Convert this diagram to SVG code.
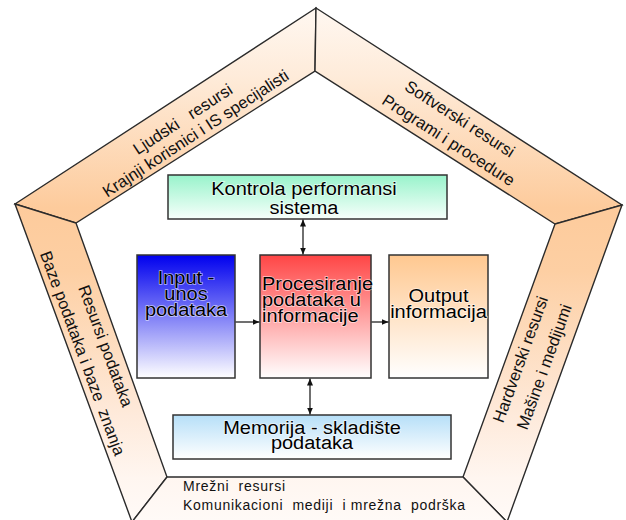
<svg xmlns="http://www.w3.org/2000/svg" width="626" height="520" viewBox="0 0 626 520">
<style>
.band{stroke:#2b2b2b;stroke-width:1.4;stroke-linejoin:miter;fill:url(#gBand)}
.box{stroke:#333;stroke-width:1.5}
.bt{font-family:"Liberation Sans",Arial,sans-serif;font-size:20px;fill:#000;stroke:#fff;stroke-width:1.6;stroke-opacity:0.6;paint-order:stroke;text-anchor:middle}
.lt{font-family:"Liberation Sans",Arial,sans-serif;font-size:16.5px;fill:#111;text-anchor:middle;white-space:pre}
.nt{font-family:"Liberation Sans",Arial,sans-serif;font-size:14px;fill:#111;white-space:pre}
.con{stroke:#222;stroke-width:1.3;fill:none}
</style>
<defs>
<linearGradient id="gBand" gradientUnits="userSpaceOnUse" x1="0" y1="0" x2="0" y2="520">
<stop offset="0" stop-color="#FFF9F4"/>
<stop offset="0.15" stop-color="#FEEBD9"/>
<stop offset="0.4" stop-color="#FDCB9C"/>
<stop offset="0.52" stop-color="#FDCFA3"/>
<stop offset="0.8" stop-color="#FEEADB"/>
<stop offset="0.92" stop-color="#FFF6F0"/>
<stop offset="1" stop-color="#FFFAF7"/>
</linearGradient>
<linearGradient id="gKon" x1="0" y1="0" x2="0" y2="1"><stop offset="0" stop-color="#98F3CB"/><stop offset="1" stop-color="#F7FFFB"/></linearGradient>
<linearGradient id="gIn" x1="0" y1="0" x2="0" y2="1"><stop offset="0" stop-color="#0000EE"/><stop offset="1" stop-color="#FFFFFF"/></linearGradient>
<linearGradient id="gPro" x1="0" y1="0" x2="0" y2="1"><stop offset="0" stop-color="#FF4545"/><stop offset="1" stop-color="#FFFFFF"/></linearGradient>
<linearGradient id="gOut" x1="0" y1="0" x2="0" y2="1"><stop offset="0" stop-color="#FFC890"/><stop offset="1" stop-color="#FFFFFF"/></linearGradient>
<linearGradient id="gMem" x1="0" y1="0" x2="0" y2="1"><stop offset="0" stop-color="#B6DFF8"/><stop offset="1" stop-color="#FFFFFF"/></linearGradient>
<marker id="ah" viewBox="0 0 7 6" refX="7" refY="3" markerWidth="7" markerHeight="6" markerUnits="userSpaceOnUse" orient="auto-start-reverse">
<path d="M0,0 L7,3 L0,6 z" fill="#111"/>
</marker>
</defs>

<g id="ljudski-resursi">
<polygon class="band" points="15,204 316,8 315,71 76,223"/>
<text class="lt" transform="translate(185.7,123.9) rotate(-33.1)">Ljudski   resursi</text>
<text class="lt" transform="translate(198.7,138.1) rotate(-33.1)">Krajnji korisnici i IS specijalisti</text>
</g>
<g id="softverski-resursi">
<polygon class="band" points="316,8 622,205 555,224 315,71"/>
<text class="lt" transform="translate(456.8,123.6) rotate(32.8)">Softverski resursi</text>
<text class="lt" transform="translate(445.5,144.9) rotate(32.8)">Programi i procedure</text>
</g>
<g id="resursi-podataka">
<polygon class="band" points="15,204 76,223 167,477 132,522"/>
<text class="lt" transform="translate(100.3,347.9) rotate(69.7)">Resursi podataka</text>
<text class="lt" transform="translate(77.3,355.3) rotate(69.7)">Baze podataka i baze  znanja</text>
</g>
<g id="hardverski-resursi">
<polygon class="band" points="622,205 507,522 463,477 555,224"/>
<text class="lt" transform="translate(525.7,361.2) rotate(-70.1)">Hardverski resursi</text>
<text class="lt" transform="translate(549.5,368.8) rotate(-70.1)">Mašine i medijumi</text>
</g>
<g id="mrezni-resursi">
<polygon class="band" points="167,477 463,477 507,522 132,522"/>
<text class="nt" x="183" y="491" textLength="102">Mrežni  resursi</text>
<text class="nt" x="183" y="510" textLength="282">Komunikacioni  mediji  i mrežna  podrška</text>
</g>

<g id="kontrola">
<rect class="box" x="168" y="175" width="279" height="44" fill="url(#gKon)"/>
<text class="bt" transform="translate(304,195) scale(1,0.88)">Kontrola performansi</text>
<text class="bt" transform="translate(304,213.5) scale(1,0.88)">sistema</text>
</g>
<g id="input">
<rect class="box" x="137" y="255" width="98" height="123" fill="url(#gIn)"/>
<text class="bt" transform="translate(186,284) scale(1,0.88)">Input -</text>
<text class="bt" transform="translate(186,300) scale(1,0.88)">unos</text>
<text class="bt" transform="translate(186,316) scale(1,0.88)">podataka</text>
</g>
<g id="procesiranje">
<rect class="box" x="260" y="255" width="111" height="123" fill="url(#gPro)"/>
<text class="bt" transform="translate(262,290) scale(1,0.88)" style="text-anchor:start">Procesiranje</text>
<text class="bt" transform="translate(262,306) scale(1,0.88)" style="text-anchor:start">podataka u</text>
<text class="bt" transform="translate(262,322) scale(1,0.88)" style="text-anchor:start">informacije</text>
</g>
<g id="output">
<rect class="box" x="389" y="255" width="99" height="123" fill="url(#gOut)"/>
<text class="bt" transform="translate(438.5,302) scale(1,0.88)">Output</text>
<text class="bt" transform="translate(438.5,318) scale(1,0.88)">informacija</text>
</g>
<g id="memorija">
<rect class="box" x="173" y="415" width="278" height="44" fill="url(#gMem)"/>
<text class="bt" transform="translate(312,433.5) scale(1,0.88)">Memorija - skladište</text>
<text class="bt" transform="translate(312,449) scale(1,0.88)">podataka</text>
</g>

<g id="connectors">
<line class="con" x1="303" y1="219.5" x2="303" y2="254.5" marker-start="url(#ah)" marker-end="url(#ah)"/>
<line class="con" x1="310" y1="378.5" x2="310" y2="414.5" marker-start="url(#ah)" marker-end="url(#ah)"/>
<line class="con" x1="235.5" y1="322" x2="259.5" y2="322" marker-end="url(#ah)"/>
<line class="con" x1="371.5" y1="322" x2="388.5" y2="322" marker-end="url(#ah)"/>
</g>
</svg>
